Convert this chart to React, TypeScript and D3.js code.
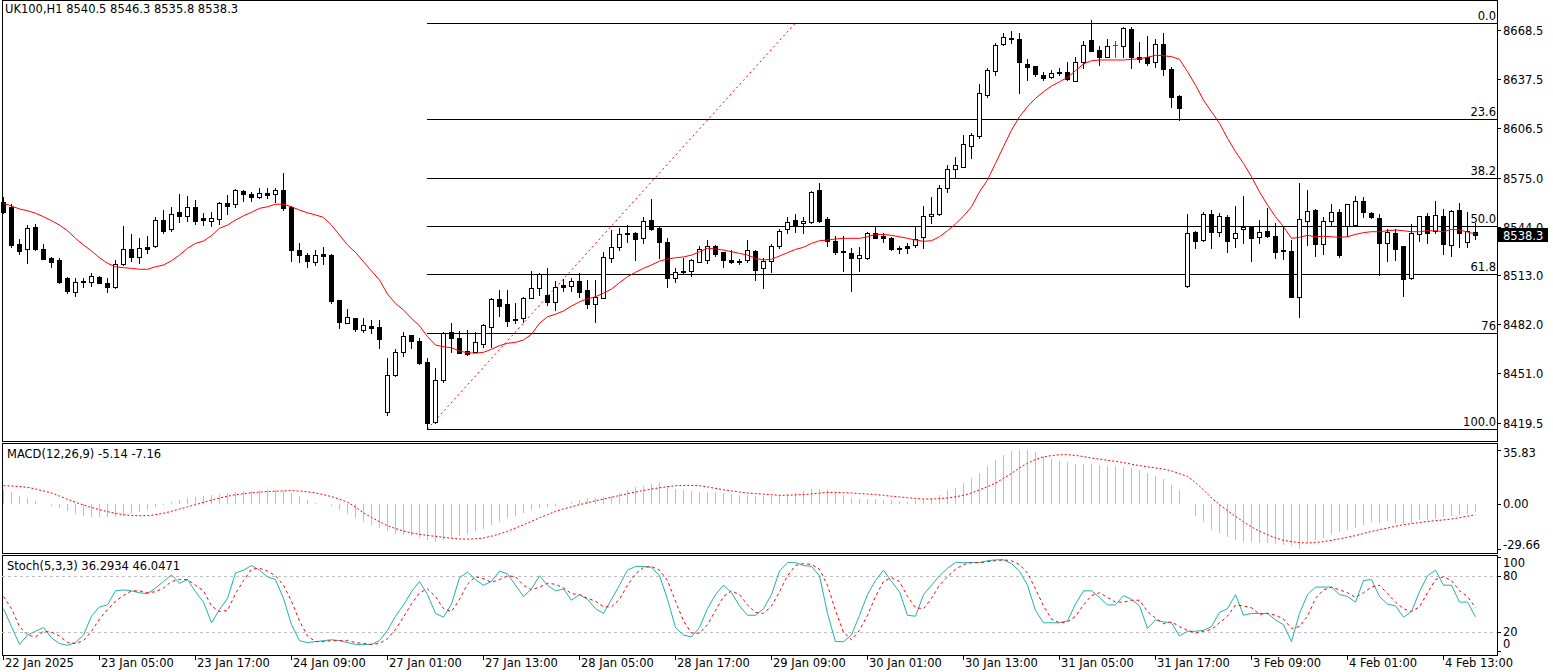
import React from "react";
import * as d3 from "d3";

// ---------------- DATA ----------------
const barOpen = [8559.3,8556.5,8532.9,8529.5,8543.5,8529.7,8524.0,8522.8,8511.2,8502.7,8509.6,8509.0,8511.8,8508.0,8505.8,8520.0,8529.5,8524.5,8531.0,8531.6,8548.1,8542.2,8553.4,8550.8,8556.2,8549.2,8547.7,8548.6,8559.1,8558.1,8566.5,8564.8,8562.9,8565.2,8564.4,8567.1,8556.5,8529.1,8525.9,8521.7,8526.8,8525.9,8497.4,8483.0,8485.8,8478.6,8481.0,8480.1,8426.6,8449.9,8464.3,8475.2,8471.4,8458.0,8419.9,8446.9,8477.0,8473.2,8465.1,8464.7,8469.7,8480.5,8498.1,8494.7,8484.9,8485.8,8498.9,8505.2,8500.6,8496.3,8506.9,8506.5,8509.5,8503.8,8494.7,8498.9,8524.2,8531.2,8539.2,8539.7,8536.5,8548.1,8543.2,8534.0,8511.2,8515.8,8515.8,8521.7,8522.6,8531.6,8527.8,8522.8,8522.1,8522.6,8528.5,8517.4,8522.3,8531.6,8542.2,8548.1,8546.0,8546.7,8567.1,8548.6,8535.0,8528.5,8527.0,8524.2,8523.8,8539.7,8538.0,8536.5,8530.4,8531.4,8532.3,8537.5,8550.5,8551.9,8568.2,8580.2,8581.9,8595.0,8601.3,8627.3,8642.7,8659.4,8663.0,8662.6,8647.0,8645.7,8639.8,8638.5,8641.4,8641.9,8636.4,8648.4,8662.2,8655.8,8651.6,8658.8,8658.4,8668.9,8651.2,8651.2,8648.0,8659.4,8643.6,8626.7,8506.3,8540.7,8535.4,8551.9,8540.7,8549.8,8536.5,8542.2,8543.9,8537.1,8541.0,8538.0,8529.1,8528.5,8499.1,8547.7,8554.4,8532.9,8547.7,8553.0,8544.3,8544.9,8560.3,8552.4,8549.2,8533.7,8540.1,8531.6,8511.2,8539.2,8550.6,8541.3,8550.6,8532.3,8554.4,8534.0,8540.5];
const barHigh = [8562.5,8558.2,8536.1,8544.9,8545.6,8532.9,8524.5,8523.8,8511.8,8511.2,8511.2,8514.7,8512.6,8511.2,8522.8,8544.3,8539.2,8536.5,8538.0,8550.2,8554.4,8556.2,8564.6,8563.3,8561.1,8552.4,8553.0,8559.3,8563.9,8567.7,8567.1,8565.7,8568.2,8568.2,8568.2,8577.7,8557.2,8533.3,8527.0,8529.1,8531.2,8526.4,8497.6,8491.7,8486.0,8485.8,8484.7,8484.7,8460.5,8466.4,8477.0,8475.5,8473.2,8460.5,8454.1,8477.0,8482.7,8477.8,8478.4,8477.3,8482.0,8498.9,8503.8,8503.8,8495.3,8499.5,8515.8,8514.7,8517.5,8509.5,8510.7,8511.2,8514.3,8510.1,8510.1,8528.0,8541.8,8543.2,8544.9,8540.7,8550.2,8561.4,8543.9,8536.9,8517.5,8523.8,8523.4,8531.6,8535.4,8532.3,8528.0,8529.1,8523.4,8535.4,8529.1,8523.8,8532.9,8542.2,8550.2,8551.9,8550.2,8566.7,8571.4,8550.2,8538.0,8538.0,8530.2,8530.8,8540.7,8543.9,8540.1,8537.5,8531.6,8533.3,8543.9,8557.0,8562.9,8570.3,8583.0,8588.2,8602.0,8603.4,8634.3,8644.2,8660.4,8666.8,8668.1,8666.8,8649.9,8646.0,8642.1,8643.2,8644.2,8648.4,8651.6,8661.7,8674.8,8658.4,8662.6,8661.7,8670.2,8670.6,8660.7,8664.7,8662.6,8666.8,8644.9,8627.0,8551.9,8541.3,8553.4,8554.4,8552.7,8551.3,8557.0,8563.3,8544.2,8548.1,8555.5,8546.0,8543.5,8535.4,8571.4,8567.1,8554.9,8550.2,8558.2,8554.9,8558.4,8563.3,8562.9,8553.0,8551.9,8542.2,8542.2,8531.8,8545.6,8550.8,8552.4,8560.3,8554.9,8554.5,8558.7,8553.4,8546.3];
const barLow = [8552.5,8531.2,8526.4,8521.1,8529.1,8523.4,8518.5,8508.0,8502.0,8500.0,8505.8,8506.3,8508.0,8502.7,8505.3,8519.6,8522.3,8521.1,8527.0,8531.2,8539.7,8541.3,8547.0,8547.7,8545.9,8544.9,8544.5,8545.6,8551.9,8556.5,8560.1,8560.1,8562.2,8561.9,8559.7,8554.4,8522.1,8521.7,8518.5,8519.6,8520.2,8495.3,8479.9,8482.7,8478.0,8477.3,8476.3,8467.2,8424.6,8449.5,8462.1,8467.2,8457.0,8415.7,8419.3,8445.7,8464.7,8463.7,8462.6,8464.3,8467.8,8467.8,8487.5,8481.1,8482.7,8483.7,8498.5,8500.6,8494.3,8491.1,8503.1,8503.1,8499.5,8492.2,8483.3,8498.5,8521.3,8529.1,8534.4,8522.8,8533.3,8541.8,8524.2,8505.8,8509.0,8514.8,8512.8,8521.3,8520.7,8525.5,8518.5,8521.0,8520.0,8521.3,8510.1,8505.3,8515.4,8530.2,8539.7,8540.7,8540.1,8546.0,8547.0,8531.6,8526.6,8516.0,8503.3,8516.0,8523.5,8536.5,8534.4,8529.1,8527.4,8527.4,8530.8,8530.2,8546.0,8551.3,8566.0,8574.5,8581.5,8587.2,8599.9,8626.2,8640.0,8659.0,8660.1,8628.8,8636.8,8639.3,8636.8,8637.9,8640.0,8636.8,8636.0,8644.2,8655.0,8646.3,8651.2,8651.6,8651.6,8644.2,8648.4,8646.3,8645.2,8640.0,8619.9,8611.5,8505.8,8530.2,8535.0,8530.2,8538.0,8528.0,8531.2,8533.3,8522.3,8533.7,8537.5,8523.8,8523.2,8499.3,8486.5,8532.3,8525.3,8526.3,8544.5,8524.9,8538.0,8544.3,8550.2,8549.6,8513.3,8522.3,8522.8,8500.0,8510.5,8535.0,8533.7,8539.7,8526.6,8525.3,8531.2,8531.2,8535.8];
const barClose = [8553.0,8532.3,8528.7,8542.9,8529.5,8523.6,8521.7,8509.0,8503.3,8508.6,8508.6,8512.6,8508.4,8505.8,8520.0,8529.5,8524.5,8530.2,8529.9,8548.1,8541.3,8551.9,8550.8,8556.3,8547.7,8547.9,8549.6,8558.7,8557.2,8567.1,8564.8,8562.9,8565.2,8563.9,8567.1,8555.9,8529.1,8525.9,8522.1,8525.9,8525.5,8496.8,8483.7,8486.5,8479.0,8481.6,8479.9,8472.5,8449.9,8464.3,8474.6,8471.6,8457.3,8419.3,8446.5,8476.5,8473.5,8464.0,8463.4,8470.6,8481.4,8498.1,8493.8,8484.3,8485.4,8498.5,8505.2,8514.1,8496.3,8505.8,8505.8,8509.5,8502.7,8495.1,8499.3,8524.7,8531.0,8539.0,8539.7,8536.1,8547.5,8542.2,8534.0,8511.2,8515.0,8515.0,8522.6,8529.5,8531.6,8526.8,8522.6,8521.3,8521.3,8528.9,8516.6,8522.3,8531.6,8541.3,8547.0,8544.9,8547.3,8566.0,8547.7,8535.0,8528.0,8527.6,8524.2,8525.7,8539.7,8536.9,8536.9,8529.9,8529.7,8530.6,8535.9,8550.6,8551.9,8568.2,8580.2,8583.0,8596.3,8601.8,8628.4,8643.2,8659.0,8663.9,8663.6,8648.4,8644.9,8640.4,8637.9,8641.1,8641.9,8637.3,8648.0,8659.0,8655.4,8651.6,8658.4,8658.8,8669.6,8651.2,8650.3,8647.8,8659.4,8643.6,8626.2,8618.9,8540.1,8535.0,8551.9,8540.7,8550.6,8535.0,8539.7,8543.9,8536.9,8540.3,8538.2,8528.0,8528.3,8499.5,8548.6,8553.8,8532.9,8547.7,8553.0,8525.7,8558.2,8560.3,8553.0,8549.8,8533.7,8540.7,8529.5,8510.5,8540.1,8550.6,8539.7,8551.3,8532.9,8554.0,8539.7,8541.3,8538.3];
const maValues = [8558.7,8557.0,8555.1,8554.0,8552.4,8550.2,8547.7,8544.9,8541.3,8536.5,8532.3,8528.5,8524.2,8520.7,8518.5,8517.9,8517.5,8516.9,8516.9,8518.5,8519.6,8522.3,8525.9,8530.2,8533.3,8534.8,8538.2,8542.9,8544.9,8548.1,8550.8,8553.0,8555.5,8556.5,8558.1,8558.1,8556.5,8554.4,8552.7,8551.3,8549.8,8544.9,8538.6,8532.3,8527.6,8521.7,8515.8,8510.1,8501.2,8495.3,8491.1,8485.8,8481.1,8474.2,8468.9,8467.8,8467.2,8465.1,8464.0,8463.7,8464.3,8466.2,8468.5,8470.0,8470.6,8472.1,8475.7,8482.7,8486.8,8488.4,8490.5,8493.6,8496.3,8498.1,8499.5,8501.7,8504.4,8508.4,8512.2,8515.0,8517.5,8519.6,8522.1,8523.4,8524.2,8524.7,8525.9,8528.0,8530.2,8529.7,8529.1,8528.0,8527.0,8525.9,8523.8,8522.8,8523.2,8525.3,8527.4,8529.5,8530.8,8533.3,8535.0,8535.4,8536.1,8536.5,8536.5,8536.5,8537.5,8539.0,8539.0,8538.4,8537.5,8536.5,8535.4,8534.6,8535.0,8537.5,8541.3,8545.6,8550.6,8556.5,8566.0,8573.5,8584.0,8594.6,8605.1,8613.6,8619.9,8625.2,8629.4,8633.0,8635.7,8638.5,8642.7,8647.0,8649.0,8649.5,8649.5,8649.5,8649.5,8649.9,8650.3,8651.2,8652.5,8652.2,8651.6,8649.9,8642.1,8633.6,8624.1,8616.7,8609.4,8599.9,8591.4,8584.0,8575.5,8566.0,8557.6,8550.2,8543.9,8536.5,8537.1,8538.4,8537.5,8537.8,8537.5,8537.1,8537.5,8539.0,8540.1,8540.7,8540.7,8541.3,8541.8,8541.3,8540.7,8540.7,8541.3,8541.3,8540.7,8542.2,8541.8,8540.5,8539.2];
const macdMain = [9.41,8.14,5.50,3.94,1.79,0.03,-1.14,-2.71,-4.86,-6.62,-7.98,-8.57,-8.86,-8.86,-8.57,-7.69,-6.62,-5.54,-3.78,-2.22,-0.66,1.10,2.37,3.74,4.82,5.50,5.89,6.38,7.26,7.94,8.33,8.82,9.02,9.02,9.21,8.82,7.26,5.01,2.86,0.61,-0.26,-1.53,-3.78,-6.42,-9.25,-11.89,-14.14,-15.90,-18.05,-19.61,-20.68,-21.37,-22.25,-24.01,-25.37,-23.52,-22.25,-20.88,-19.61,-18.05,-16.29,-14.14,-11.70,-9.45,-7.69,-5.93,-4.17,-2.71,-1.83,-1.14,0.22,1.49,2.86,3.74,4.13,4.62,5.01,7.26,9.41,11.17,12.05,13.41,14.29,11.65,9.90,9.02,8.33,8.14,7.94,7.65,7.26,6.77,6.18,5.70,5.50,5.01,5.01,6.18,6.77,7.26,8.33,9.90,9.90,9.02,7.65,6.18,3.94,3.25,3.25,3.25,2.86,2.37,1.79,1.10,2.37,3.25,3.94,6.18,9.02,10.58,13.80,17.13,20.45,25.33,29.24,32.56,34.71,35.83,35.40,34.13,31.88,29.73,28.17,27.48,26.60,26.60,26.60,25.92,25.33,24.84,24.45,23.77,22.60,20.45,18.20,16.44,12.73,9.41,0.03,-7.69,-12.09,-17.36,-19.12,-21.76,-24.01,-25.37,-25.37,-25.76,-25.76,-26.25,-26.84,-28.01,-29.66,-25.76,-23.52,-22.44,-19.61,-18.73,-17.36,-15.90,-13.65,-12.09,-12.57,-11.50,-12.57,-12.97,-12.57,-10.82,-10.33,-9.94,-8.57,-8.18,-7.10,-6.42,-5.14];
const macdSignal = [12.05,11.85,11.46,10.97,9.90,8.63,7.26,5.21,3.15,1.10,-0.66,-2.32,-3.78,-5.05,-6.22,-7.10,-7.59,-7.79,-7.69,-7.10,-6.13,-4.86,-3.39,-1.93,-0.46,1.10,2.57,3.94,5.11,6.09,6.77,7.36,7.84,8.14,8.43,8.63,8.82,8.53,8.04,7.26,6.18,4.82,3.25,1.10,-1.93,-5.93,-8.86,-11.70,-14.33,-16.19,-17.85,-19.12,-20.00,-20.78,-21.37,-22.05,-22.64,-23.13,-23.22,-23.03,-22.44,-21.27,-19.80,-18.05,-15.90,-13.75,-11.50,-9.25,-7.01,-4.86,-3.29,-1.83,-0.46,0.81,2.08,3.25,4.43,5.60,6.77,7.84,8.92,9.90,10.68,11.46,12.05,12.24,12.24,12.05,11.26,10.29,9.41,8.63,7.94,7.26,6.87,6.48,6.18,5.70,5.79,5.99,6.18,6.67,7.16,7.65,7.65,7.45,7.26,6.87,6.57,6.18,5.70,5.11,4.62,4.13,3.64,3.25,3.25,3.55,3.94,4.72,5.70,7.26,9.31,11.46,13.80,16.93,20.25,23.77,26.90,29.34,31.00,31.98,32.46,32.56,32.07,31.29,30.32,29.63,28.85,28.17,27.29,26.31,25.33,24.55,23.77,23.09,21.82,20.06,18.20,14.20,9.31,3.94,-0.46,-4.37,-8.18,-11.70,-15.12,-18.05,-20.29,-22.34,-24.01,-24.89,-25.47,-25.76,-25.47,-24.89,-24.01,-23.03,-21.95,-20.88,-19.51,-18.14,-16.97,-15.90,-14.72,-13.65,-12.97,-12.28,-11.50,-11.01,-10.52,-9.94,-9.06,-8.08,-7.16];
const stochMain = [45,26,7,17,21,25,14,8,6,9,17,37,47,49,64,65,64,62,61,67,74,81,72,76,63,52,30,44,56,83,86,91,86,79,76,56,28,11,9,10,11,12,11,9,7,7,7,11,22,37,49,63,74,60,40,36,50,78,84,76,70,74,85,82,70,58,66,80,70,64,66,54,60,55,45,40,55,70,86,90,90,89,80,55,25,17,15,25,45,60,70,62,48,38,38,45,60,85,94,94,91,90,80,40,10,10,17,38,60,75,86,74,63,38,37,60,70,80,88,94,94,94,94,96,97,97,93,85,70,43,30,30,30,32,50,64,64,57,49,49,59,55,48,24,33,31,30,16,21,21,22,26,41,45,60,38,40,40,40,33,28,10,40,60,68,68,68,60,58,52,75,76,58,50,48,36,42,63,80,86,70,70,52,52,36.2934];
const stochSignal = [58,45,26,17,15,21,20,16,9,8,11,21,34,44,53,59,64,64,62,63,67,74,76,76,70,64,48,42,43,61,75,87,88,85,80,70,53,32,16,10,10,11,11,11,9,8,7,8,13,23,36,50,62,66,58,45,42,55,71,79,77,73,76,80,79,70,65,68,72,71,67,61,60,56,53,47,47,55,70,82,89,90,86,75,53,32,19,19,28,43,58,64,60,49,41,40,48,63,80,91,93,92,87,70,43,20,12,22,38,58,74,78,74,58,46,45,56,70,79,87,92,94,94,95,96,97,96,92,83,66,48,34,30,31,37,49,59,62,57,52,52,54,54,42,35,29,31,26,22,19,21,23,30,37,49,48,46,39,40,38,34,24,26,37,56,65,68,65,62,57,62,68,70,61,52,45,42,47,62,76,79,75,64,58,46.0471];

const fibLow = 8415.7;
const fibHigh = 8673.0;
const fibLowBar = 53;
const fibHighBar = 99;
const fibLevels = [0, 23.6, 38.2, 50, 61.8, 76.4, 100];
const fibLabels = ["0.0", "23.6", "38.2", "50.0", "61.8", "76", "100.0"];

const priceTicks = [8668.5, 8637.5, 8606.5, 8575.0, 8544.0, 8513.0, 8482.0, 8451.0, 8419.5];
const timeLabels = ["22 Jan 2025","23 Jan 05:00","23 Jan 17:00","24 Jan 09:00","27 Jan 01:00","27 Jan 13:00","28 Jan 05:00","28 Jan 17:00","29 Jan 09:00","30 Jan 01:00","30 Jan 13:00","31 Jan 05:00","31 Jan 17:00","3 Feb 09:00","4 Feb 01:00","4 Feb 13:00"];
const timeLabelBars = [0,12,24,36,48,60,72,84,96,108,120,132,144,156,168,180];

const macdMax = 35.83;
const macdMin = -29.66;
const stochLevels = [20, 80];

// ---------------- LAYOUT ----------------
const W = 1553, H = 672;
const L = 2, R = 1497;
const MAIN_T = 0, MAIN_B = 441;
const MACD_T = 443, MACD_B = 553;
const STO_T = 555, STO_B = 655;
const FONT = "'DejaVu Sans', sans-serif";
const FS = 11.5;

export default function App() {
  const n = barClose.length;
  const x = d3.scaleLinear().domain([0, n - 1]).range([3, 3 + 8 * (n - 1)]);
  const y = d3.scaleLinear().domain([8419.5, 8668.5]).range([423, 30]);
  const ym = d3.scaleLinear().domain([macdMin, macdMax]).range([548.9, 449.7]);
  const ys = d3.scaleLinear().domain([0, 100]).range([651, 557]);

  const px = (i: number) => Math.round(x(i));
  const maLine = d3.line<number>().x((_, i) => px(i) + 0.5).y((d) => y(d));
  const sigLine = d3.line<number>().x((_, i) => px(i) + 0.5).y((d) => ym(d));
  const kLine = d3.line<number>().x((_, i) => px(i) + 0.5).y((d) => ys(d));

  const candles = barClose.map((c, i) => {
    const o = barOpen[i], h = barHigh[i], l = barLow[i];
    const cx = px(i);
    const yo = Math.round(y(o)), yc = Math.round(y(c));
    const yh = Math.round(y(h)), yl = Math.round(y(l));
    const top = Math.min(yo, yc), bot = Math.max(yo, yc);
    if (o === c) {
      return (
        <g key={i} stroke="#008000" shapeRendering="crispEdges">
          <line x1={cx + 0.5} x2={cx + 0.5} y1={yh} y2={yl + 1} />
          <line x1={cx - 2} x2={cx + 3} y1={yo + 0.5} y2={yo + 0.5} />
        </g>
      );
    }
    const bull = c > o;
    return (
      <g key={i} shapeRendering="crispEdges">
        <line x1={cx + 0.5} x2={cx + 0.5} y1={yh} y2={yl + 1} stroke="#000" />
        {bot - top < 1 ? (
          <line x1={cx - 2} x2={cx + 3} y1={top + 0.5} y2={top + 0.5} stroke="#000" />
        ) : (
          <rect x={cx - 1.5} y={top + 0.5} width={4} height={bot - top} fill={bull ? "#fff" : "#000"} stroke="#000" />
        )}
      </g>
    );
  });

  const fibRange = fibHigh - fibLow;
  const fibX0 = px(fibLowBar);

  const lastClose = barClose[n - 1];
  const title = `UK100,H1 ${barOpen[n - 1].toFixed(1)} ${barHigh[n - 1].toFixed(1)} ${barLow[n - 1].toFixed(1)} ${lastClose.toFixed(1)}`;
  const zeroY = Math.round(ym(0));

  return (
    <div style={{ width: W, height: H, background: "#fff" }}>
      <style>{`body{margin:0;background:#fff}`}</style>
      <svg width={W} height={H} style={{ display: "block", fontFamily: FONT, fontSize: FS }}>
        <rect x={0} y={0} width={W} height={H} fill="#fff" />
        {/* panel frames */}
        <g fill="none" stroke="#000" shapeRendering="crispEdges">
          <rect x={L + 0.5} y={MAIN_T + 0.5} width={R - L} height={MAIN_B - MAIN_T} />
          <rect x={L + 0.5} y={MACD_T + 0.5} width={R - L} height={MACD_B - MACD_T} />
          <rect x={L + 0.5} y={STO_T + 0.5} width={R - L} height={STO_B - STO_T} />
        </g>

        {/* fibonacci retracement */}
        <g shapeRendering="crispEdges">
          {fibLevels.map((lv, k) => {
            const yy = Math.round(y(fibHigh - (fibRange * lv) / 100)) + 0.5;
            return (
              <g key={k}>
                <line x1={fibX0} x2={R} y1={yy} y2={yy} stroke="#000" />
                <text x={R - 1} y={yy - 4} textAnchor="end" fill="#000">{fibLabels[k]}</text>
              </g>
            );
          })}
        </g>
        <line x1={fibX0 + 0.5} y1={y(fibLow)} x2={px(fibHighBar) + 0.5} y2={y(fibHigh)} stroke="#f00" strokeDasharray="2,3" />

        {/* candles + MA */}
        <g>{candles}</g>
        <path d={maLine(maValues) || ""} fill="none" stroke="#f00" strokeWidth={1} />

        {/* price axis */}
        <g shapeRendering="crispEdges">
          {priceTicks.map((p, k) => {
            const yy = Math.round(y(p)) + 0.5;
            return (
              <g key={k}>
                <line x1={R} x2={R + 4} y1={yy} y2={yy} stroke="#000" />
                <text x={R + 6} y={yy + 4} fill="#000">{p.toFixed(1)}</text>
              </g>
            );
          })}
          <rect x={R + 1} y={Math.round(y(lastClose)) - 7} width={W - R - 6} height={14} fill="#000" />
          <text x={R + 6} y={Math.round(y(lastClose)) + 4.5} fill="#fff">{lastClose.toFixed(1)}</text>
        </g>
        <text x={5} y={13} fill="#000">{title}</text>

        {/* MACD */}
        <g shapeRendering="crispEdges" stroke="#c0c0c0">
          {macdMain.map((v, i) => (
            <line key={i} x1={px(i) + 0.5} x2={px(i) + 0.5} y1={zeroY} y2={Math.round(ym(v))} />
          ))}
        </g>
        <path d={sigLine(macdSignal) || ""} fill="none" stroke="#f00" strokeDasharray="2,2" />
        <text x={7} y={458} fill="#000">{`MACD(12,26,9) ${macdMain[n - 1].toFixed(2)} ${macdSignal[n - 1].toFixed(2)}`}</text>
        <g shapeRendering="crispEdges">
          {[macdMax, 0, macdMin].map((v, k) => {
            const yy = k === 0 ? 453 : k === 2 ? 545 : zeroY;
            const ty = k === 0 ? Math.round(ym(macdMax)) : k === 2 ? Math.round(ym(macdMin)) : zeroY;
            return (
              <g key={k}>
                <line x1={R} x2={R + 4} y1={ty + 0.5} y2={ty + 0.5} stroke="#000" />
                <text x={R + 6} y={yy + 4} fill="#000">{v.toFixed(2)}</text>
              </g>
            );
          })}
        </g>

        {/* Stochastic */}
        <g shapeRendering="crispEdges">
          {stochLevels.map((lv) => (
            <line key={lv} x1={L} x2={R} y1={Math.round(ys(lv)) + 0.5} y2={Math.round(ys(lv)) + 0.5} stroke="#c0c0c0" strokeDasharray="3,3" />
          ))}
        </g>
        <path d={kLine(stochMain) || ""} fill="none" stroke="#20b2aa" />
        <path d={kLine(stochSignal) || ""} fill="none" stroke="#f00" strokeDasharray="3,3" />
        <text x={7} y={570} fill="#000">{`Stoch(5,3,3) ${stochMain[n - 1].toFixed(4)} ${stochSignal[n - 1].toFixed(4)}`}</text>
        {[100, 80, 20, 0].map((v, k) => {
          const yy = v === 100 ? 563 : v === 0 ? 644 : Math.round(ys(v));
          return (
            <g key={k} shapeRendering="crispEdges">
              <line x1={R} x2={R + 4} y1={Math.round(ys(v)) + 0.5} y2={Math.round(ys(v)) + 0.5} stroke="#000" />
              <text x={R + 6} y={yy + 4} fill="#000">{v}</text>
            </g>
          );
        })}

        {/* time axis */}
        {timeLabelBars.map((b, k) => (
          <g key={k} shapeRendering="crispEdges">
            <line x1={px(b) + 0.5} x2={px(b) + 0.5} y1={STO_B} y2={STO_B + 5} stroke="#000" />
            <text x={px(b) + 2} y={667} fill="#000">{timeLabels[k]}</text>
          </g>
        ))}
      </svg>
    </div>
  );
}
